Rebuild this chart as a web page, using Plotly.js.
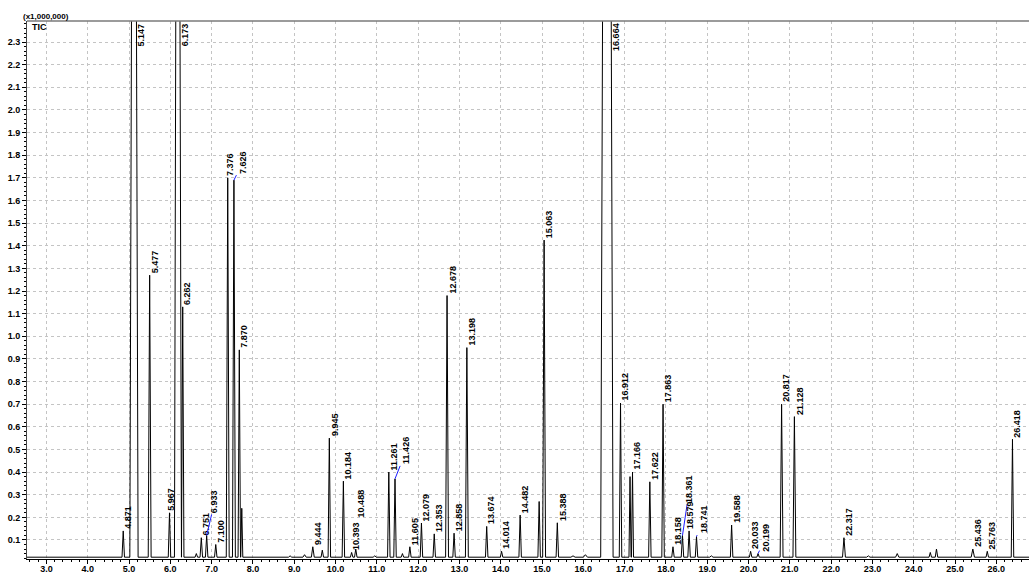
<!DOCTYPE html>
<html><head><meta charset="utf-8">
<script src="https://cdn.plot.ly/plotly-3.0.1.min.js"></script>
<style>html,body{margin:0;padding:0;background:#fff}</style>
</head><body><div id="chart" style="width:1029px;height:574px"></div>
<script>
// Retention time of each peak apex (min)
const peakTime = [4.86, 5.12, 5.50, 5.98, 6.18, 6.30, 6.63, 6.75, 6.88, 7.10, 7.39, 7.54, 7.67, 7.73,
  8.90, 9.25, 9.45, 9.68, 9.85, 10.19, 10.39, 10.49, 10.95, 11.29, 11.44, 11.62, 11.80, 12.08, 12.39,
  12.70, 12.87, 13.18, 13.66, 14.02, 14.47, 14.93, 15.05, 15.37, 15.75, 16.05, 16.57, 16.90, 17.13,
  17.19, 17.61, 17.93, 18.17, 18.40, 18.56, 18.74, 19.10, 19.59, 20.05, 20.23, 20.80, 21.11, 22.31,
  22.90, 23.60, 24.40, 24.55, 25.43, 25.78, 26.39];
// Apex intensity (x1,000,000)
const peakHeight = [0.14, 6.0, 1.27, 0.22, 6.0, 1.13, 0.04, 0.11, 0.12, 0.08, 1.70, 1.69, 0.94, 0.24,
  0.03, 0.035, 0.07, 0.055, 0.55, 0.36, 0.045, 0.06, 0.03, 0.40, 0.37, 0.04, 0.07, 0.175, 0.127,
  1.18, 0.13, 0.95, 0.16, 0.05, 0.21, 0.27, 1.425, 0.176, 0.03, 0.035, 8.0, 0.705, 0.38,
  0.40, 0.357, 0.70, 0.07, 0.12, 0.14, 0.115, 0.03, 0.166, 0.05, 0.04, 0.70, 0.645, 0.11,
  0.03, 0.04, 0.045, 0.06, 0.06, 0.05, 0.545];
// Half width of each peak at its base (min)
const peakWidth = [0.03, 0.10, 0.035, 0.03, 0.08, 0.03, 0.03, 0.03, 0.03, 0.03, 0.035, 0.035, 0.03, 0.025,
  0.04, 0.04, 0.035, 0.03, 0.03, 0.03, 0.03, 0.03, 0.04, 0.03, 0.03, 0.03, 0.03, 0.03, 0.03,
  0.035, 0.03, 0.035, 0.03, 0.03, 0.03, 0.03, 0.035, 0.03, 0.05, 0.05, 0.15, 0.03, 0.025,
  0.025, 0.03, 0.03, 0.03, 0.03, 0.03, 0.03, 0.04, 0.03, 0.03, 0.03, 0.035, 0.035, 0.035,
  0.04, 0.04, 0.03, 0.03, 0.04, 0.03, 0.03];
// Peak labels printed by the software
const peakLabel = ["4.871", "5.147", "5.477", "5.967", "6.173", "6.262", "", "6.751", "6.933", "7.100", "7.376", "7.626", "7.870", "",
  "", "", "9.444", "", "9.945", "10.184", "10.393", "10.488", "", "11.261", "11.426", "", "11.605", "12.079", "12.353",
  "12.678", "12.858", "13.198", "13.674", "14.014", "14.482", "", "15.063", "15.388", "", "", "16.664", "16.912", "",
  "17.166", "17.622", "17.863", "18.158", "18.361", "18.579", "18.741", "", "19.588", "20.033", "20.199", "20.817", "21.128", "22.317",
  "", "", "", "", "25.436", "25.763", "26.418"];
const baselineLevel = 0.024;
const runStart = 2.5, runEnd = 26.9;

const X_RANGE = [2.53, 26.79];
const Y_RANGE = [0.016, 2.393];
const FONT = 'Liberation Sans, Arial, sans-serif';

// trace from peak table
const xs = [runStart], ys = [baselineLevel];
for (let i = 0; i < peakTime.length; i++) {
  const t = peakTime[i], h = peakHeight[i], w = peakWidth[i];
  xs.push(t - w, t, t + w);
  ys.push(baselineLevel, h, baselineLevel);
}
xs.push(runEnd); ys.push(baselineLevel);

// labels drawn with a blue leader line: pixel offset of the label centre from the apex
const leader = {
  "6.933": [8, -34],
  "7.626": [9, -18],
  "11.426": [11, -28],
  "18.361": [7, -47],
  "18.741": [7, -17],
  "20.199": [8, -16]
};
const shiftX = {"5.967": 2, "7.376": 3, "18.579": 1, "5.147": 7, "6.173": 7, "16.664": 9};
const raise = {"10.488": 0.13};

const annotations = [];
for (let i = 0; i < peakTime.length; i++) {
  const lab = peakLabel[i];
  if (!lab) continue;
  const off = peakHeight[i] > Y_RANGE[1];
  const base = {
    x: peakTime[i], xref: 'x', yref: 'y', text: lab, textangle: -90,
    font: {family: FONT, size: 9, color: '#000', weight: 'bold'}
  };
  if (off) {
    Object.assign(base, {y: Y_RANGE[1], xanchor: 'center', yanchor: 'top', showarrow: false,
      xshift: shiftX[lab] !== undefined ? shiftX[lab] : 6});
  } else if (leader[lab]) {
    Object.assign(base, {y: peakHeight[i], xanchor: 'center', yanchor: 'middle', showarrow: true,
      ax: leader[lab][0], ay: leader[lab][1], arrowhead: 0, arrowwidth: 1,
      arrowcolor: '#1a1aff', standoff: 0, startstandoff: 0});
  } else {
    Object.assign(base, {y: peakHeight[i] + (raise[lab] || 0), xanchor: 'center', yanchor: 'bottom',
      showarrow: false, xshift: shiftX[lab] !== undefined ? shiftX[lab] : 5});
  }
  annotations.push(base);
}
annotations.push({xref: 'paper', yref: 'paper', x: -0.006, y: 1, xanchor: 'left', yanchor: 'bottom',
  text: '(x1,000,000)', showarrow: false, font: {family: FONT, size: 8, color: '#000', weight: 'bold'}, yshift: -2});
annotations.push({xref: 'paper', yref: 'paper', x: 0.003, y: 1, xanchor: 'left', yanchor: 'top',
  text: 'TIC', showarrow: false, font: {family: FONT, size: 9, color: '#000', weight: 'bold'}, yshift: 1});

const trace = {
  x: xs, y: ys, type: 'scatter', mode: 'lines',
  line: {color: '#000', width: 1}, hoverinfo: 'skip'
};

const tickFont = {family: FONT, size: 9, color: '#000', weight: 'bold'};
const layout = {
  width: 1029, height: 574,
  margin: {l: 27, r: 0, t: 21, b: 15, pad: 0},
  paper_bgcolor: '#fff', plot_bgcolor: '#fff',
  showlegend: false,
  xaxis: {
    range: X_RANGE, tick0: 3, dtick: 1, tickformat: '.1f',
    showgrid: true, gridcolor: '#c4c4c4', gridwidth: 1, griddash: '3px,3px',
    zeroline: false, showline: true, linecolor: '#000', linewidth: 1,
    ticks: 'outside', ticklen: 4, tickcolor: '#000', tickfont: tickFont,
    ticklabelstandoff: -3,
    minor: {tick0: 3, dtick: 0.2, ticks: 'outside', ticklen: 2, tickcolor: '#000', showgrid: false},
    fixedrange: true
  },
  yaxis: {
    range: Y_RANGE, tick0: 0.1, dtick: 0.1, tickformat: '.1f',
    showgrid: true, gridcolor: '#c4c4c4', gridwidth: 1, griddash: '3px,3px',
    zeroline: false, showline: true, linecolor: '#444', linewidth: 1,
    ticks: 'outside', ticklen: 4, tickcolor: '#000', tickfont: tickFont,
    minor: {tick0: 0, dtick: 0.02, ticks: 'outside', ticklen: 2, tickcolor: '#000', showgrid: false},
    fixedrange: true
  },
  shapes: [{type: 'line', xref: 'paper', yref: 'paper', x0: 0, x1: 1, y0: 1, y1: 1,
    line: {color: '#7a7a7a', width: 1.5}}],
  annotations: annotations
};

Plotly.newPlot('chart', [trace], layout, {displayModeBar: false, staticPlot: true});
</script>
</body></html>
